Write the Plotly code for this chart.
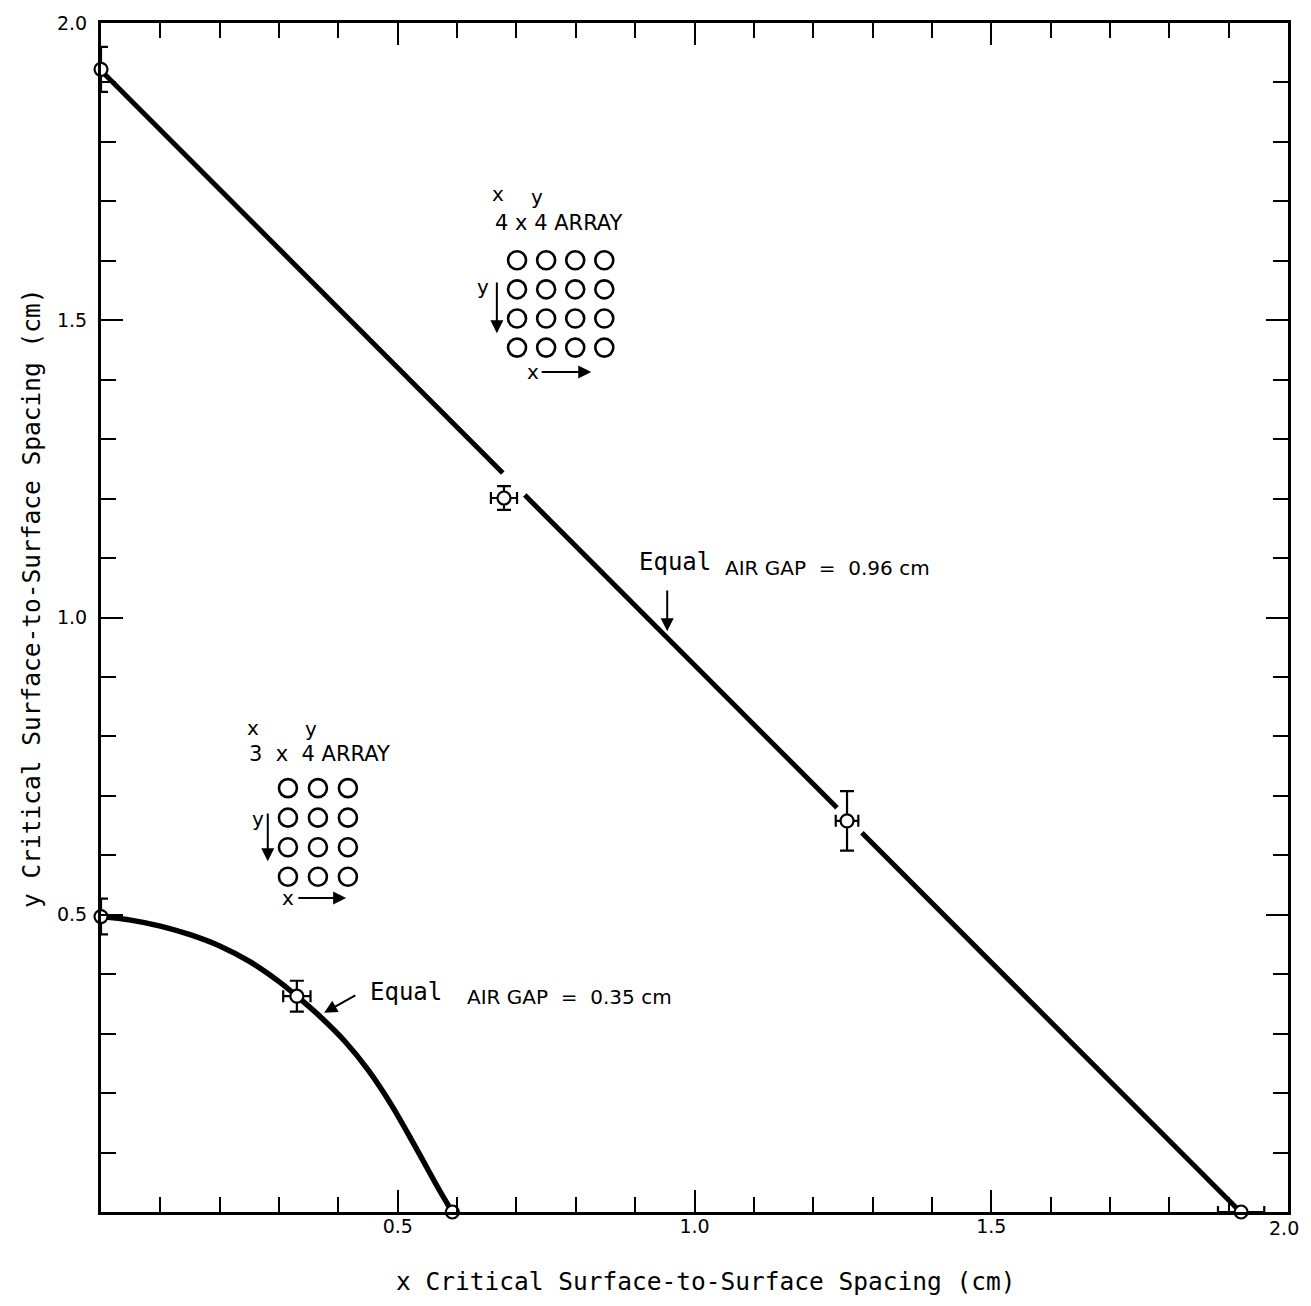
import plotly.graph_objects as go

# ---------------- data ----------------
# 4 x 4 array: measured critical spacings (cm)
a44_x = [0.0, 0.679, 1.257, 1.921]
a44_y = [1.922, 1.201, 0.658, 0.0]
a44_ex = [0.0, 0.022, 0.019, 0.039]
a44_ey = [0.038, 0.020, 0.050, 0.0]
# 4 x 4 array fitted line (gaps around the middle points)
a44_line_x = [0.0, 0.677, None, 0.714, 1.240, None, 1.282, 1.920]
a44_line_y = [1.920, 1.243, None, 1.206, 0.680, None, 0.638, 0.0]

# 3 x 4 array: measured critical spacings (cm)
a34_x = [0.0, 0.330, 0.592]
a34_y = [0.497, 0.363, 0.0]
a34_ex = [0.0, 0.023, 0.0]
a34_ey = [0.030, 0.026, 0.0]
# 3 x 4 array fitted curve
a34_curve_x = [0.000, 0.050, 0.100, 0.150, 0.200, 0.250, 0.300, 0.330,
               0.370, 0.410, 0.450, 0.490, 0.530, 0.570, 0.592]
a34_curve_y = [0.497, 0.491, 0.481, 0.4665, 0.4475, 0.4215, 0.3875, 0.363,
               0.328, 0.288, 0.239, 0.179, 0.109, 0.037, 0.0]

tick_vals = [0.0, 0.5, 1.0, 1.5, 2.0]
y_tick_text = ["", "0.5", "1.0", "1.5", "2.0"]
x_tick_text = ["", "0.5", "1.0", "1.5", ""]   # last x label placed as text at the edge
x_last_label = "2.0"

x_title = "x Critical Surface-to-Surface Spacing (cm)"
y_title = "y Critical Surface-to-Surface Spacing (cm)"

# ---------------- figure ----------------
fig = go.Figure()

LW = 5
fig.add_trace(go.Scatter(x=a44_line_x, y=a44_line_y, mode="lines",
                         line=dict(color="black", width=LW), connectgaps=False,
                         hoverinfo="skip", cliponaxis=False))
fig.add_trace(go.Scatter(x=a34_curve_x, y=a34_curve_y, mode="lines",
                         line=dict(color="black", width=LW + 0.5, shape="spline", smoothing=1.0),
                         hoverinfo="skip", cliponaxis=False))

marker = dict(symbol="circle", size=13, color="white", line=dict(color="black", width=2.2))
for xs, ys, ex, ey in [(a44_x, a44_y, a44_ex, a44_ey), (a34_x, a34_y, a34_ex, a34_ey)]:
    fig.add_trace(go.Scatter(
        x=xs, y=ys, mode="markers", marker=marker, cliponaxis=False,
        error_x=dict(type="data", array=ex, visible=True, color="black", thickness=2.2, width=6),
        error_y=dict(type="data", array=ey, visible=True, color="black", thickness=2.2, width=7),
        hoverinfo="skip"))

# ---------------- array diagrams ----------------
def grid(x0, y0, ncol, nrow, dx, dy):
    gx, gy = [], []
    for r in range(nrow):
        for c in range(ncol):
            gx.append(x0 + c * dx)
            gy.append(y0 - r * dy)
    return gx, gy

g1x, g1y = grid(0.701, 1.601, 4, 4, 0.049, 0.049)
g2x, g2y = grid(0.315, 0.713, 3, 4, 0.0505, 0.0497)
for gx, gy in [(g1x, g1y), (g2x, g2y)]:
    fig.add_trace(go.Scatter(x=gx, y=gy, mode="markers",
                             marker=dict(symbol="circle-open", size=18,
                                         line=dict(color="black", width=2.6), color="black"),
                             hoverinfo="skip"))

sans = "DejaVu Sans"
mono = "DejaVu Sans Mono"
ann = []

def text(x, y, s, size=20, fam=sans, xanchor="left"):
    ann.append(dict(x=x, y=y, xref="x", yref="y", text=s, showarrow=False,
                    xanchor=xanchor, yanchor="middle",
                    font=dict(family=fam, size=size, color="black")))

def arrow(x, y, ax, ay, head=2, size=1.3):
    ann.append(dict(x=x, y=y, ax=ax, ay=ay, xref="x", yref="y", axref="x", ayref="y",
                    text="", showarrow=True, arrowhead=head, arrowsize=size,
                    arrowwidth=2, arrowcolor="black", standoff=0, startstandoff=0))

nb = "\u00a0"
# 4x4 labels
text(0.669, 1.712, "x", xanchor="center")
text(0.735, 1.708, "y", xanchor="center")
text(0.660, 1.664, "4 x 4 ARRAY", size=21)
text(0.644, 1.556, "y", xanchor="center")
arrow(0.667, 1.478, 0.667, 1.566)
text(0.728, 1.413, "x", xanchor="center")
arrow(0.826, 1.413, 0.740, 1.413)

# 3x4 labels
text(0.256, 0.814, "x", xanchor="center")
text(0.354, 0.812, "y", xanchor="center")
text(0.246, 0.770, "3" + nb + " x" + nb + " 4 ARRAY", size=21)
text(0.265, 0.661, "y", xanchor="center")
arrow(0.281, 0.590, 0.281, 0.673)
text(0.315, 0.528, "x", xanchor="center")
arrow(0.413, 0.528, 0.330, 0.528)

# Equal air gap labels
text(0.903, 1.093, "Equal", size=24, fam=mono)
text(1.048, 1.083, "AIR GAP " + nb + "=" + nb + " 0.96 cm", size=20)
arrow(0.954, 0.977, 0.954, 1.048)

text(0.450, 0.370, "Equal", size=24, fam=mono)
text(0.613, 0.362, "AIR GAP " + nb + "=" + nb + " 0.35 cm", size=20)
arrow(0.376, 0.335, 0.431, 0.366)

# last x tick label at the right edge
ann.append(dict(x=tick_vals[-1], y=0, xref="x", yref="paper", yshift=-16, xshift=-4,
                text=x_last_label, showarrow=False, xanchor="center", yanchor="middle",
                font=dict(family=sans, size=19, color="black")))

# axis titles
ann.append(dict(x=0.5097, y=0, xref="paper", yref="paper", yshift=-69,
                text=x_title, showarrow=False, xanchor="center", yanchor="middle",
                font=dict(family=mono, size=24.5, color="black")))
ann.append(dict(x=0, y=0.5164, xref="paper", yref="paper", xshift=-70,
                text=y_title, showarrow=False, xanchor="center", yanchor="middle",
                textangle=-90, font=dict(family=mono, size=24.5, color="black")))

axis_common = dict(
    range=[0, 2.0], showgrid=False, zeroline=False, automargin=False,
    showline=True, linecolor="black", linewidth=3, mirror="ticks",
    ticks="inside", ticklen=22, tickwidth=2, tickcolor="black",
    tickmode="array", tickvals=tick_vals,
    tickfont=dict(family=sans, size=19, color="black"),
    minor=dict(ticks="inside", ticklen=15, tickwidth=2, tickcolor="black",
               tickmode="linear", tick0=0, dtick=0.1, showgrid=False),
    fixedrange=True,
)

# page body has an 8px default margin: size figure to fit the 1311x1306 window
fig.update_layout(
    width=1303, height=1290,
    margin=dict(l=93, r=23, t=15, b=86),
    paper_bgcolor="white", plot_bgcolor="white",
    showlegend=False,
    xaxis=dict(**axis_common, ticktext=x_tick_text, ticklabelstandoff=-5),
    yaxis=dict(**axis_common, ticktext=y_tick_text, ticklabelstandoff=7),
    annotations=ann,
)

fig.write_html("out.html")
